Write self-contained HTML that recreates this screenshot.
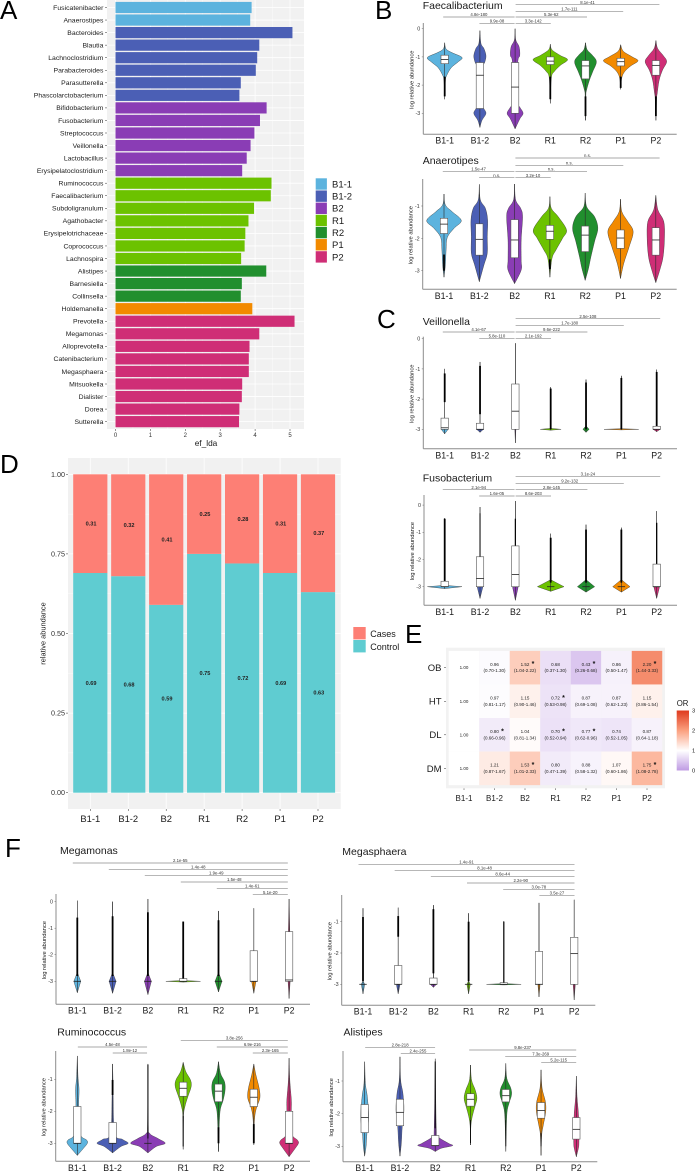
<!DOCTYPE html>
<html lang="en">
<head>
<meta charset="utf-8">
<title>Microbiome enterotype figure</title>
<style>
html,body{margin:0;padding:0;background:#fff;}
svg{display:block;font-family:"Liberation Sans",sans-serif;filter:blur(.3px);}
</style>
</head>
<body>
<svg id="figure" xmlns="http://www.w3.org/2000/svg" width="696" height="1171" viewBox="0 0 696 1171">
<defs>
<linearGradient id="or-gradient" x1="0" y1="1" x2="0" y2="0">
<stop offset="0" stop-color="#bf9be3"/>
<stop offset="0.333" stop-color="#ffffff"/>
<stop offset="0.667" stop-color="#fba07f"/>
<stop offset="1" stop-color="#df3a1e"/>
</linearGradient>
</defs>
<rect x="0" y="0" width="696" height="1171" fill="#ffffff"/>
<text x="0" y="19" font-size="26" fill="#000">A</text>
<text x="375" y="19" font-size="26" fill="#000">B</text>
<text x="377" y="328" font-size="26" fill="#000">C</text>
<text x="0" y="473" font-size="26" fill="#000">D</text>
<text x="405" y="643" font-size="26" fill="#000">E</text>
<text x="5" y="857" font-size="26" fill="#000">F</text>
</svg>
<script>
/* ---------- shared categories ---------- */
const groups = ['B1-1','B1-2','B2','R1','R2','P1','P2'];
const groupColors = ['#5cb3de','#4b5fb5','#8a3db5','#6cc200','#218f2e','#f28a00','#cf2e76'];

/* ---------- panel A ---------- */
const ldaGenera = ['Fusicatenibacter','Anaerostipes','Bacteroides','Blautia','Lachnoclostridium','Parabacteroides','Parasutterella','Phascolarctobacterium','Bifidobacterium','Fusobacterium','Streptococcus','Veillonella','Lactobacillus','Erysipelatoclostridium','Ruminococcus','Faecalibacterium','Subdoligranulum','Agathobacter','Erysipelotrichaceae','Coprococcus','Lachnospira','Alistipes','Barnesiella','Collinsella','Holdemanella','Prevotella','Megamonas','Alloprevotella','Catenibacterium','Megasphaera','Mitsuokella','Dialister','Dorea','Sutterella'];
const ldaScores = [3.90,3.86,5.07,4.12,4.06,4.02,3.59,3.55,4.33,4.14,3.98,3.87,3.76,3.63,4.47,4.45,3.97,3.81,3.72,3.70,3.60,4.32,3.62,3.59,3.92,5.13,4.12,3.84,3.82,3.82,3.63,3.62,3.55,3.54];
const ldaGroupIndex = [0,0,1,1,1,1,1,1,2,2,2,2,2,2,3,3,3,3,3,3,3,4,4,4,5,6,6,6,6,6,6,6,6,6];
const ldaTicks = [0,1,2,3,4,5];

/* ---------- panel D ---------- */
const casesShare = [0.31,0.32,0.41,0.25,0.28,0.31,0.37];
const controlShare = [0.69,0.68,0.59,0.75,0.72,0.69,0.63];
const shareTicks = ['0.00','0.25','0.50','0.75','1.00'];

/* ---------- panel E ---------- */
const orRows = ['OB','HT','DL','DM'];
const orValues = [
  [1.00,0.96,1.52,0.68,0.43,0.86,2.20],
  [1.00,0.97,1.15,0.72,0.87,0.87,1.15],
  [1.00,0.80,1.04,0.70,0.77,0.74,0.87],
  [1.00,1.21,1.53,0.80,0.88,1.07,1.75]
];
const orIntervals = [
  ['','(0.70-1.30)','(1.04-2.22)','(0.37-1.30)','(0.26-0.68)','(0.50-1.47)','(1.44-3.33)'],
  ['','(0.81-1.17)','(0.90-1.46)','(0.53-0.98)','(0.69-1.08)','(0.62-1.23)','(0.86-1.54)'],
  ['','(0.66-0.96)','(0.81-1.34)','(0.52-0.94)','(0.62-0.96)','(0.52-1.05)','(0.64-1.18)'],
  ['','(0.87-1.67)','(1.01-2.33)','(0.47-1.39)','(0.58-1.32)','(0.60-1.86)','(1.08-2.78)']
];
const orSignificant = [
  [0,0,1,0,1,0,1],
  [0,0,0,1,0,0,0],
  [0,1,0,1,1,0,0],
  [0,0,1,0,0,0,1]
];
const orLegendTicks = [0,1,2,3];

/* ---------- violin panels: [value, relative density] ---------- */
const faecaliProfiles = [
  [[-.5,0],[-.72,.08],[-.85,.42],[-1.02,1],[-1.18,.77],[-1.38,.38],[-1.65,.12],[-1.85,.04],[-2.5,0]],
  [[-.07,0],[-.52,.06],[-.7,.23],[-.95,.35],[-1.17,.29],[-1.47,.12],[-2.4,.08],[-2.78,.19],[-3,.35],[-3.25,.12],[-3.5,0]],
  [[0,0],[-.4,.04],[-.64,.23],[-.95,.27],[-1.2,.15],[-2.5,.04],[-2.78,.27],[-3,.46],[-3.2,.27],[-3.55,0]],
  [[-.55,0],[-.75,.1],[-.95,.58],[-1.1,1],[-1.3,.58],[-1.52,.23],[-1.75,.06],[-2.65,0]],
  [[-.5,0],[-.75,.1],[-.93,.38],[-1.17,.63],[-1.52,.42],[-1.82,.23],[-2.18,.06],[-2.4,.02],[-3.25,0]],
  [[-.57,0],[-.8,.15],[-1,.67],[-1.14,1],[-1.32,.58],[-1.52,.23],[-1.75,.06],[-2.15,0]],
  [[-.42,0],[-.7,.1],[-.95,.42],[-1.17,.62],[-1.47,.38],[-1.82,.19],[-2.28,.08],[-2.5,.04],[-3.25,0]]
];
const faecaliBoxes = [[-1.24,-1.09,-.94],[-2.83,-1.65,-1.2],[-3,-2.07,-1.2],[-1.27,-1.15,-1],[-1.78,-1.32,-1.13],[-1.32,-1.17,-1.05],[-1.65,-1.3,-1.13]];
const faecaliOutliers = [[-2.4,-1.7],null,null,[-2.5,-1.7],[-3.1,-2.4],[-2.1,-1.7],[-3.1,-2.4]];
const faecaliBrackets = [[2,6,0,'8.1e-41'],[2,5,1,'1.7e-111'],[0,2,2,'4.8e-180'],[2,4,2,'5.3e-62'],[1,2,3,'9.9e-08'],[2,3,3,'3.3e-142']];
const faecaliTicks = [0,-1,-2,-3];

const anaeroProfiles = [
  [[-.63,0],[-.97,.08],[-1.18,.48],[-1.45,1],[-1.69,.58],[-1.97,.19],[-2.36,.12],[-2.82,.08],[-3.2,0]],
  [[-.33,0],[-.81,.06],[-1.07,.35],[-1.43,.48],[-1.95,.46],[-2.46,.46],[-2.82,.27],[-3.34,0]],
  [[-.32,0],[-.81,.06],[-1.07,.35],[-1.33,.46],[-2.05,.38],[-2.67,.38],[-2.98,.38],[-3.4,0]],
  [[-.71,0],[-1.07,.08],[-1.33,.48],[-1.74,.96],[-2,.73],[-2.36,.35],[-2.62,.12],[-3.2,0]],
  [[-.6,0],[-1.02,.08],[-1.33,.54],[-1.69,.73],[-2.1,.54],[-2.57,.33],[-2.93,.19],[-3.3,0]],
  [[-.79,0],[-1.18,.08],[-1.48,.42],[-1.79,.73],[-2.26,.5],[-2.77,.19],[-3.24,0]],
  [[-.67,0],[-1.12,.12],[-1.48,.46],[-2,.5],[-2.57,.42],[-2.98,.23],[-3.37,0]]
];
const anaeroBoxes = [[-1.85,-1.56,-1.38],[-2.52,-2.03,-1.55],[-2.6,-2.05,-1.42],[-2.03,-1.78,-1.6],[-2.41,-1.9,-1.62],[-2.31,-1.99,-1.74],[-2.52,-2.05,-1.67]];
const anaeroOutliers = [[-3,-2.5],null,null,[-2.95,-2.65],null,null,null];
const anaeroBrackets = [[2,6,0,'n.s.'],[2,5,1,'n.s.'],[0,2,2,'1.5e-47'],[2,4,2,'n.s.'],[1,2,3,'n.s.'],[2,3,3,'3.2e-10']];
const anaeroTicks = [-1,-2,-3];

const veillonProfiles = [
  [[-1,0],[-2.9,0],[-3,.2],[-3.15,0]],
  [[-.77,0],[-2.9,0],[-3,.2],[-3.1,0]],
  [[-.15,0],[-2.95,0],[-3,.03],[-3.45,0]],
  [[-1.6,0],[-2.97,0],[-3,.6],[-3.03,0]],
  [[-1.35,0],[-2.9,.02],[-3,.18],[-3.1,0]],
  [[-1.23,0],[-2.98,0],[-3,1],[-3.02,0]],
  [[-1.02,0],[-2.95,0],[-3,.2],[-3.08,0]]
];
const veillonBoxes = [[-3,-2.95,-2.63],[-3,-3,-2.8],[-3,-2.4,-1.5],null,null,null,[-3,-3,-2.9]];
const veillonOutliers = [[-2.1,-1.15],[-2.5,-.9],null,[-3,-1.65],[-3,-1.45],[-3,-1.3],[-2.9,-1.1]];
const veillonBrackets = [[2,6,0,'2.5e-108'],[2,5,1,'1.7e-180'],[0,2,2,'4.1e-67'],[2,4,2,'9.6e-222'],[1,2,3,'5.8e-110'],[2,3,3,'2.1e-192']];
const veillonTicks = [0,-1,-2,-3];

const fusoProfiles = [
  [[-.48,0],[-2.95,0],[-3,1],[-3.07,0]],
  [[-.07,0],[-3,0],[-3.02,.16],[-3.43,0]],
  [[.15,0],[-3,0],[-3.02,.16],[-3.5,0]],
  [[-1.05,0],[-2.75,.02],[-3,.77],[-3.17,0]],
  [[-.72,0],[-2.75,.02],[-3,.5],[-3.2,0]],
  [[-.83,0],[-2.75,.02],[-3,.5],[-3.2,0]],
  [[-.22,0],[-3,0],[-3.02,.16],[-3.43,0]]
];
const fusoBoxes = [[-3,-3,-2.8],[-3,-2.7,-1.9],[-3,-2.55,-1.5],[-3,-3,-3],[-3,-3,-3],[-3,-3,-3],[-3,-3,-2.17]];
const fusoOutliers = [[-2.8,-.5],[-1.9,-.3,1],[-1.5,-.5,1.2],[-2.85,-1.2],[-2.85,-.9],[-2.85,-.9],[-2.17,-.65,1.3]];
const fusoBrackets = [[2,6,0,'3.1e-24'],[2,5,1,'9.2e-132'],[0,2,2,'2.1e-94'],[2,4,2,'2.8e-145'],[1,2,3,'1.6e-05'],[2,3,3,'8.6e-203']];
const fusoTicks = [0,-1,-2,-3];

const megamProfiles = [
  [[.04,0],[-2.7,.02],[-3,.2],[-3.43,0]],
  [[0,0],[-2.7,.02],[-3,.2],[-3.45,0]],
  [[.1,0],[-2.7,.02],[-3,.2],[-3.5,0]],
  [[-.75,0],[-2.97,0],[-3,1],[-3.03,0]],
  [[-.35,0],[-2.7,.02],[-3,.2],[-3.4,0]],
  [[-.25,0],[-3,0],[-3.02,.12],[-3.45,0]],
  [[.1,0],[-1.1,.04],[-3,.06],[-3.65,0]]
];
const megamBoxes = [[-3,-3,-3],[-3,-3,-3],[-3,-3,-3],[-3,-3,-2.9],[-3,-3,-3],[-3,-3,-1.85],[-3,-2.95,-1.13]];
const megamOutliers = [[-2.8,-.6],[-2.8,-.55],[-2.8,-.4],[-2.9,-.75],[-2.8,-.7],null,null];
const megamBrackets = [[0,6,0,'2.1e-55'],[1,6,1,'1.4e-48'],[2,6,2,'1.9e-49'],[3,6,3,'1.5e-48'],[4,6,4,'1.4e-61'],[5,6,5,'5.1e-20']];
const megamTicks = [0,-1,-2,-3];

const megasProfiles = [
  [[-.57,0],[-2.9,.01],[-3,.1],[-3.3,0]],
  [[-.55,0],[-3,0],[-3.02,.1],[-3.3,0]],
  [[-.47,0],[-3,0],[-3.02,.14],[-3.1,0]],
  [[-.73,0],[-2.9,.01],[-3,.1],[-3.3,0]],
  [[-.98,0],[-2.98,0],[-3,1],[-3.02,0]],
  [[-.4,0],[-3,0],[-3.02,.06],[-3.4,0]],
  [[-.3,0],[-3,0],[-3.02,.06],[-3.5,0]]
];
const megasBoxes = [[-3,-3,-3],[-3,-3,-2.4],[-3,-3,-2.8],[-3,-3,-3],[-3,-3,-2.95],[-3,-3,-1.95],[-3,-2.02,-1.5]];
const megasOutliers = [[-2.9,-.85],[-1.48,-.82],[-2.65,-.6],[-2.9,-1],[-2.95,-1,1.2],null,null];
const megasBrackets = [[0,6,0,'1.4e-91'],[1,6,1,'8.1e-48'],[2,6,2,'8.6e-44'],[3,6,3,'2.2e-90'],[4,6,4,'3.0e-78'],[5,6,5,'3.5e-27']];
const megasTicks = [-1,-2,-3];

const ruminoProfiles = [
  [[-.27,0],[-.92,.04],[-1.33,.1],[-1.85,.08],[-2.69,.15],[-2.9,.54],[-3,.58],[-3.16,.35],[-3.38,0]],
  [[-.52,0],[-1.02,.02],[-1.5,.03],[-2.69,.12],[-2.88,.58],[-3,.9],[-3.1,.48],[-3.3,0]],
  [[-.52,0],[-2.4,.02],[-2.69,.1],[-2.85,.58],[-3,1],[-3.1,.48],[-3.3,0]],
  [[-.47,0],[-.76,.15],[-1.02,.42],[-1.23,.46],[-1.54,.27],[-1.85,.1],[-2.17,.02],[-3.19,0]],
  [[-.45,0],[-.82,.12],[-1.08,.35],[-1.34,.38],[-1.65,.27],[-1.96,.1],[-2.48,.04],[-3.26,0]],
  [[-.52,0],[-.86,.12],[-1.28,.31],[-1.59,.35],[-1.9,.15],[-2.27,.04],[-3.05,0]],
  [[-.34,0],[-1.02,.04],[-1.65,.13],[-2,.13],[-2.69,.15],[-2.9,.48],[-3,.54],[-3.16,.35],[-3.42,0]]
];
const ruminoBoxes = [[-3,-3,-1.85],[-3,-3,-2.35],[-3,-3,-3],[-1.53,-1.28,-1.09],[-1.7,-1.37,-1.15],[-1.85,-1.56,-1.31],[-3,-3,-2]];
const ruminoOutliers = [null,[-1.49,-1.02],[-2.85,-.55,1],[-3.1,-2.15,1],[-3,-2.5],[-3,-2.4],null];
const ruminoBrackets = [[3,6,0,'3.8e-256'],[.14,2.09,1,'4.5e-48'],[4,6,1,'6.9e-216'],[1.11,2.09,2,'1.8e-12'],[5,6,2,'2.3e-165']];
const ruminoTicks = [-1,-2,-3];

const alistiProfiles = [
  [[-.41,0],[-1.07,.04],[-1.48,.15],[-2.1,.23],[-2.6,.13],[-3,.08],[-3.3,0]],
  [[-.26,0],[-.97,.04],[-1.38,.17],[-1.89,.23],[-2.4,.13],[-2.9,.08],[-3.3,0]],
  [[-.32,0],[-2.45,.06],[-2.7,.15],[-2.91,.77],[-2.98,1],[-3.06,.35],[-3.16,0]],
  [[-.51,0],[-.97,.06],[-1.27,.27],[-1.53,.37],[-1.79,.25],[-2.09,.1],[-2.4,.02],[-2.96,0]],
  [[-.46,0],[-.92,.06],[-1.22,.29],[-1.43,.33],[-1.68,.19],[-2.04,.06],[-3.16,0]],
  [[-.66,0],[-1.22,.06],[-1.63,.25],[-1.94,.27],[-2.35,.13],[-2.65,.04],[-3.28,0]],
  [[-.85,0],[-1.48,.04],[-1.99,.12],[-2.5,.15],[-2.91,.15],[-3.06,.12],[-3.32,0]]
];
const alistiBoxes = [[-2.58,-2.12,-1.72],[-2.37,-1.96,-1.56],[-2.98,-2.98,-2.67],[-1.77,-1.56,-1.39],[-1.64,-1.45,-1.26],[-2.14,-1.9,-1.66],[-2.78,-2.48,-2.12]];
const alistiOutliers = [null,null,[-2.45,-.4,1],[-2.9,-2.2,.8],[-3,-2.2,.8],[-3,-2.6,.8],null];
const alistiBrackets = [[.11,2.08,0,'2.8e-218'],[3,6,1,'9.8e-237'],[1.1,2.08,2,'2.4e-255'],[4,6,3,'7.3e-269'],[5,6,4,'5.2e-115']];
const alistiTicks = [-1,-2,-3];

/* ---------- drawing helpers ---------- */
const SVG_NS = 'http://www.w3.org/2000/svg';
const figure = document.getElementById('figure');

function mk(tag, name, attrs, parent) {
  const e = document.createElementNS(SVG_NS, tag);
  
  
  for (const k in attrs) e.setAttribute(k, attrs[k]);
  (parent || figure).appendChild(e);
  return e;
}
function txt(name, content, x, y, size, anchor, parent, extra) {
  const a = Object.assign({x: x, y: y, 'font-size': size, 'text-anchor': anchor || 'start', fill: '#1a1a1a'}, extra || {});
  const t = mk('text', name, a, parent);
  t.textContent = content;
  return t;
}
function line(name, x1, y1, x2, y2, color, w, parent) {
  return mk('line', name, {x1: x1, y1: y1, x2: x2, y2: y2, stroke: color, 'stroke-width': w}, parent);
}

/* ---------- panel A: LDA bars ---------- */
function drawPanelA() {
  const g = mk('g', 'panel-a-lda-bars', {});
  const xA = v => 115.5 + v * 34.9;
  const yA = i => 7.5 + i * 12.55;
  mk('rect', 'panel-a-background', {x: 107, y: 0, width: 197, height: 429, fill: '#f1f1f1'}, g);
  ldaTicks.forEach(t => {
    line('grid-x-major', xA(t), 0, xA(t), 429, '#ffffff', .8, g);
    line('grid-x-minor', xA(t + .5), 0, xA(t + .5), 429, '#ffffff', .4, g);
  });
  ldaGenera.forEach((name, i) => {
    line('grid-y', 107, yA(i), 304, yA(i), '#ffffff', .8, g);
    mk('rect', 'bar-' + name.toLowerCase(), {x: xA(0), y: yA(i) - 5.6, width: xA(ldaScores[i]) - xA(0), height: 11.2, fill: groupColors[ldaGroupIndex[i]]}, g);
    txt('genus-label', name, 103.4, yA(i) + 2.3, 6.85, 'end', g);
    line('genus-tick', 105, yA(i), 107, yA(i), '#333', .5, g);
  });
  ldaTicks.forEach(t => {
    line('x-tick', xA(t), 429, xA(t), 431, '#333', .5, g);
    txt('x-tick-label', String(t), xA(t), 437, 6, 'middle', g, {fill: '#333'});
  });
  txt('x-axis-title', 'ef_lda', 206, 446, 8.3, 'middle', g);
  groups.forEach((name, i) => {
    const y = 184 + i * 12.15;
    mk('rect', 'legend-swatch-' + name.toLowerCase(), {x: 315.7, y: y - 5.7, width: 11.2, height: 11.4, fill: groupColors[i]}, g);
    txt('legend-entry', name, 332, y + 3.4, 9.5, 'start', g);
  });
}

/* ---------- panel D: stacked bars ---------- */
function drawPanelD() {
  const g = mk('g', 'panel-d-stacked-bars', {});
  const yD = v => 792.7 - v * 318.4;
  const xD = i => 90.3 + i * 37.95;
  mk('rect', 'panel-d-background', {x: 68, y: 458, width: 272.7, height: 351, fill: '#f1f1f1'}, g);
  shareTicks.forEach(t => {
    const v = parseFloat(t);
    line('grid-y-major', 68, yD(v), 340.7, yD(v), '#ffffff', .8, g);
    if (v < 1) line('grid-y-minor', 68, yD(v + .125), 340.7, yD(v + .125), '#ffffff', .4, g);
    txt('y-tick-label', t, 65, yD(v) + 2.5, 7.2, 'end', g, {fill: '#333'});
    line('y-tick', 66, yD(v), 68, yD(v), '#333', .5, g);
  });
  groups.forEach((name, i) => {
    line('grid-x', xD(i), 458, xD(i), 809, '#ffffff', .8, g);
    mk('rect', 'bar-control-' + name.toLowerCase(), {x: xD(i) - 17.1, y: yD(controlShare[i]), width: 34.2, height: yD(0) - yD(controlShare[i]), fill: '#5fccd1'}, g);
    mk('rect', 'bar-cases-' + name.toLowerCase(), {x: xD(i) - 17.1, y: yD(controlShare[i] + casesShare[i]), width: 34.2, height: yD(controlShare[i]) - yD(controlShare[i] + casesShare[i]), fill: '#fd7f75'}, g);
    txt('value-label-cases', casesShare[i].toFixed(2), xD(i) + .8, yD(controlShare[i] + casesShare[i] / 2) + 1.9, 5.6, 'middle', g, {'font-weight': 'bold', fill: '#222'});
    txt('value-label-control', controlShare[i].toFixed(2), xD(i) + .8, yD(controlShare[i] / 2) + 1.9, 5.6, 'middle', g, {'font-weight': 'bold', fill: '#222'});
    line('x-tick', xD(i), 809, xD(i), 811, '#333', .5, g);
    txt('x-tick-label', name, xD(i), 822, 9.4, 'middle', g);
  });
  const title = txt('y-axis-title', 'relative abundance', 0, 0, 7.4, 'middle', g);
  title.setAttribute('transform', 'translate(45.5 633.5) rotate(-90)');
  mk('rect', 'legend-swatch-cases', {x: 353.3, y: 627, width: 12.4, height: 12.4, fill: '#fd7f75'}, g);
  mk('rect', 'legend-swatch-control', {x: 353.3, y: 640, width: 12.4, height: 12.4, fill: '#5fccd1'}, g);
  txt('legend-entry-cases', 'Cases', 370.3, 637, 9, 'start', g);
  txt('legend-entry-control', 'Control', 370.3, 650, 9, 'start', g);
}

/* ---------- panel E: odds-ratio heatmap ---------- */
function orColor(v) {
  const mix = (a, b, t) => Math.round(a + (b - a) * t);
  let c;
  if (v >= 2) { const t = Math.min((v - 2), 1); c = [mix(251,223,t), mix(160,58,t), mix(127,30,t)]; }
  else if (v >= 1) { const t = v - 1; c = [mix(255,251,t), mix(255,160,t), mix(255,127,t)]; }
  else { const t = 1 - v; c = [mix(255,191,t), mix(255,155,t), mix(255,227,t)]; }
  return 'rgb(' + c.join(',') + ')';
}
function drawPanelE() {
  const g = mk('g', 'panel-e-odds-ratio-heatmap', {});
  const xE = i => 464 + i * 30.5;
  const yE = r => 667.7 + r * 33.55;
  mk('rect', 'panel-e-background', {x: 446, y: 647.7, width: 219, height: 140.6, fill: '#f2f2f2'}, g);
  orRows.forEach((row, r) => {
    groups.forEach((col, c) => {
      const v = orValues[r][c];
      mk('rect', 'cell-' + row.toLowerCase() + '-' + col.toLowerCase(), {x: xE(c) - 15.25, y: yE(r) - 16.8, width: 30.5, height: 33.6, fill: orColor(v)}, g);
      const ci = orIntervals[r][c];
      txt('or-value', v.toFixed(2), xE(c), yE(r) + (ci ? -1.7 : 1.5), 4.5, 'middle', g, {fill: '#222'});
      if (ci) txt('or-interval', ci, xE(c), yE(r) + 4.5, 4.5, 'middle', g, {fill: '#222'});
      if (orSignificant[r][c]) txt('significance-star', '*', xE(c) + 8, yE(r) + (ci ? -1.5 : 1), 7, 'middle', g, {'font-weight': 'bold', fill: '#111'});
    });
    txt('row-label', row, 441.5, yE(r) + 3.4, 9.5, 'end', g);
    line('row-tick', 444, yE(r), 446, yE(r), '#333', .5, g);
  });
  groups.forEach((name, c) => {
    txt('column-label', name, xE(c), 801, 8, 'middle', g);
    line('column-tick', xE(c), 788.3, xE(c), 790, '#333', .5, g);
  });
  txt('legend-title', 'OR', 676.7, 706, 7.8, 'start', g);
  mk('rect', 'or-colorbar', {x: 676.7, y: 710.5, width: 12.3, height: 60, fill: 'url(#or-gradient)'}, g);
  orLegendTicks.forEach(t => {
    txt('colorbar-tick-label', String(t), 692, 771.5 - t * 20 + 1.2, 5.8, 'start', g);
  });
}

/* ---------- violin panels ---------- */
const violinLayouts = [
  {title:'Faecalibacterium', titleX:422.7, titleY:9, axisX:423.3, top:23, bottom:134.3, right:676.7, refY:113.3, unit:28.2, c0:444.7, cStep:35.2, labelY:143.6, bx0:442.7, bxStep:36.2, bracketY:[4.7,11.3,17,23.3], profiles:faecaliProfiles, boxes:faecaliBoxes, outliers:faecaliOutliers, brackets:faecaliBrackets, ticks:faecaliTicks},
  {title:'Anaerotipes', titleX:422.7, titleY:164, axisX:422.7, top:179, bottom:289.3, right:676.7, refY:270.7, unit:32.35, c0:444, cStep:35.3, labelY:299, bx0:442.3, bxStep:36.3, bracketY:[158,165.3,171.3,177.7], profiles:anaeroProfiles, boxes:anaeroBoxes, outliers:anaeroOutliers, brackets:anaeroBrackets, ticks:anaeroTicks},
  {title:'Veillonella', titleX:422.7, titleY:325, axisX:423.3, top:336.7, bottom:448.7, right:677, refY:429.3, unit:30.2, c0:444.7, cStep:35.33, labelY:458.5, bx0:442.3, bxStep:36.4, bracketY:[318.7,325.3,332,338.3], profiles:veillonProfiles, boxes:veillonBoxes, outliers:veillonOutliers, brackets:veillonBrackets, ticks:veillonTicks},
  {title:'Fusobacterium', titleX:422.7, titleY:481.7, axisX:424, top:495, bottom:605.3, right:677, refY:586.7, unit:27.2, c0:444.7, cStep:35.33, labelY:615, bx0:442.3, bxStep:36.4, bracketY:[476.3,483.3,489.7,496], profiles:fusoProfiles, boxes:fusoBoxes, outliers:fusoOutliers, brackets:fusoBrackets, ticks:fusoTicks},
  {title:'Megamonas', titleX:60, titleY:854, axisX:56, top:894, bottom:1004.3, right:310, refY:981.3, unit:26.55, c0:77.3, cStep:35.3, labelY:1013.5, bx0:72.3, bxStep:36, bracketY:[863,869.3,875.3,882,888.3,894.7], profiles:megamProfiles, boxes:megamBoxes, outliers:megamOutliers, brackets:megamBrackets, ticks:megamTicks},
  {title:'Megasphaera', titleX:342.3, titleY:855, axisX:341.7, top:895, bottom:1005.3, right:595.3, refY:984.3, unit:31.3, c0:363, cStep:35.2, labelY:1014.5, bx0:358, bxStep:36.17, bracketY:[864.3,870.3,876.3,883,889.3,895.3], profiles:megasProfiles, boxes:megasBoxes, outliers:megasOutliers, brackets:megasBrackets, ticks:megasTicks},
  {title:'Ruminococcus', titleX:57.3, titleY:1035.7, axisX:55.7, top:1051, bottom:1161.3, right:310, refY:1143.3, unit:32, c0:77.3, cStep:35.3, labelY:1171, bx0:72.3, bxStep:36, bracketY:[1040.3,1047,1053], profiles:ruminoProfiles, boxes:ruminoBoxes, outliers:ruminoOutliers, brackets:ruminoBrackets, ticks:ruminoTicks},
  {title:'Alistipes', titleX:343.5, titleY:1035.7, axisX:343, top:1051, bottom:1161.7, right:597.3, refY:1146.3, unit:32.65, c0:364.7, cStep:35.27, labelY:1171, bx0:360.7, bxStep:36, bracketY:[1047.3,1050,1053.3,1056.3,1062.3], profiles:alistiProfiles, boxes:alistiBoxes, outliers:alistiOutliers, brackets:alistiBrackets, ticks:alistiTicks}
];

/* outline of one side of a violin: straight for spike shapes, smooth otherwise */
function violinSide(points, cx, side, smooth) {
  let d = '';
  for (let i = 0; i < points.length - 1; i++) {
    const p1 = points[i], p2 = points[i + 1];
    if (!smooth) {
      d += 'L' + (cx + side * p2[0]).toFixed(2) + ' ' + p2[1].toFixed(2);
      continue;
    }
    const p0 = points[i - 1] || p1, p3 = points[i + 2] || p2;
    const w1 = Math.max(0, p1[0] + (p2[0] - p0[0]) / 6), y1 = p1[1] + (p2[1] - p0[1]) / 6;
    const w2 = Math.max(0, p2[0] - (p3[0] - p1[0]) / 6), y2 = p2[1] - (p3[1] - p1[1]) / 6;
    d += 'C' + (cx + side * w1).toFixed(2) + ' ' + y1.toFixed(2) + ' ' + (cx + side * w2).toFixed(2) + ' ' + y2.toFixed(2) + ' ' + (cx + side * p2[0]).toFixed(2) + ' ' + p2[1].toFixed(2);
  }
  return d;
}

function drawViolinPanel(p) {
  const slug = p.title.toLowerCase();
  const g = mk('g', 'violin-panel-' + slug, {});
  const yV = v => p.refY - (v + 3) * p.unit;
  const xV = i => p.c0 + i * p.cStep;
  const bxV = i => p.bx0 + i * p.bxStep;
  const halfWidth = 17.3;

  txt('panel-title', p.title, p.titleX, p.titleY, 10.5, 'start', g, {fill: '#1a1a1a'});

  p.brackets.forEach(b => {
    const x1 = bxV(b[0]) + .5;
    const x2 = bxV(b[1]) - .5;
    const y = p.bracketY[b[2]];
    line('significance-bracket', x1, y, x2, y, '#8c8c8c', .7, g);
    txt('significance-label', b[3], (x1 + x2) / 2, y - .9, 4.3, 'middle', g, {fill: '#333'});
  });

  line('y-axis-line', p.axisX, p.top, p.axisX, p.bottom, '#8c8c8c', 1, g);
  line('x-axis-line', p.axisX, p.bottom, p.right, p.bottom, '#8c8c8c', 1, g);
  p.ticks.forEach(t => {
    line('y-tick', p.axisX - 1.5, yV(t), p.axisX, yV(t), '#666', .5, g);
    txt('y-tick-label', String(t), p.axisX - 3, yV(t) + 1.9, 5.4, 'end', g, {fill: '#333'});
  });
  const yTitle = txt('y-axis-title', 'log relative abundance', 0, 0, 5.8, 'middle', g);
  yTitle.setAttribute('transform', 'translate(' + (p.axisX - 10) + ' ' + ((p.top + p.bottom) / 2 + 1) + ') rotate(-90)');

  groups.forEach((name, i) => {
    const gg = mk('g', 'violin-' + name.toLowerCase(), {}, g);
    const prof = p.profiles[i];
    const cx = xV(i);
    const pts = prof.map(q => [q[1] * halfWidth, yV(q[0])]);
    const smooth = prof.length > 4;
    const d = 'M' + cx.toFixed(2) + ' ' + pts[0][1].toFixed(2) + violinSide(pts, cx, 1, smooth) + violinSide(pts.slice().reverse(), cx, -1, smooth) + 'Z';
    mk('path', 'violin-body', {d: d, fill: groupColors[i], stroke: '#333', 'stroke-width': .4, 'stroke-linejoin': 'round'}, gg);
    line('violin-center-line', cx, yV(prof[0][0]), cx, yV(prof[prof.length - 1][0]), '#2a2a2a', .6, gg);
    const out = p.outliers[i];
    if (out) line('outlier-points', cx, yV(out[0]), cx, yV(out[1]), '#000', out[2] || 1.8, gg);
    const box = p.boxes[i];
    if (box) {
      mk('rect', 'box', {x: cx - 3.7, y: yV(box[2]), width: 7.4, height: yV(box[0]) - yV(box[2]), fill: '#fff', stroke: '#555', 'stroke-width': .6}, gg);
      line('box-median', cx - 3.7, yV(box[1]), cx + 3.7, yV(box[1]), '#222', .8, gg);
    }
    txt('x-tick-label', name, cx, p.labelY, 8.8, 'middle', gg);
  });
}

drawPanelA();
drawPanelD();
drawPanelE();
violinLayouts.forEach(drawViolinPanel);
</script>
</body>
</html>
